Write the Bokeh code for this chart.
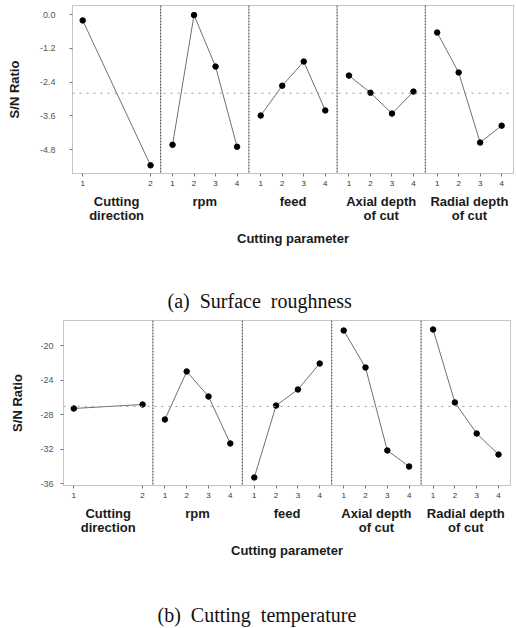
import numpy as np
from bokeh.plotting import figure
from bokeh.layouts import column, row
from bokeh.models import (Span, Title, FixedTicker, NumeralTickFormatter, Range1d,
                          LinearAxis)
from bokeh.embed import file_html
from bokeh.resources import INLINE

# ---------------- data ----------------
factor_names = ["Cutting\ndirection", "rpm", "feed", "Axial depth\nof cut", "Radial depth\nof cut"]
factor_levels = [[1, 2], [1, 2, 3, 4], [1, 2, 3, 4], [1, 2, 3, 4], [1, 2, 3, 4]]

roughness_sn = [
    [-0.21, -5.36],
    [-4.63, -0.02, -1.85, -4.70],
    [-3.59, -2.53, -1.67, -3.41],
    [-2.17, -2.78, -3.52, -2.74],
    [-0.64, -2.06, -4.55, -3.95],
]
temperature_sn = [
    [-27.30, -26.84],
    [-28.58, -23.01, -25.91, -31.36],
    [-35.30, -26.96, -25.10, -22.09],
    [-18.26, -22.55, -32.17, -34.03],
    [-18.14, -26.60, -30.20, -32.64],
]
roughness_yticks = [0.0, -1.2, -2.4, -3.6, -4.8]
temperature_yticks = [-20, -24, -28, -32, -36]

x_title = "Cutting parameter"
y_title = "S/N Ratio"
captions = ["(a)\u00a0\u00a0Surface\u00a0\u00a0roughness", "(b)\u00a0\u00a0Cutting\u00a0\u00a0temperature"]

SANS = "Liberation Sans"
SERIF = "Liberation Serif"
INK = "#1a1a1a"


def level_pos(k, lev, nlev):
    a, b = (0.85, 2.15) if nlev == 2 else (0.45, nlev + 0.55)
    return k + (lev - a) / (b - a)


def make_chart(values, yticks, yrange, fmt, caption, left, right, top, bottom, height,
               cap_offset, ylab_standoff, ytick_standoff, gap):
    p = figure(width=516, height=height, x_range=Range1d(0, 5), y_range=Range1d(*yrange),
               output_backend="svg", toolbar_location=None,
               min_border_left=left, min_border_right=right,
               min_border_top=top, min_border_bottom=bottom)
    p.xgrid.visible = False
    p.ygrid.visible = False
    p.outline_line_color = "#8a8a8a"
    p.outline_line_dash = "1 1"
    p.background_fill_color = "white"
    p.border_fill_color = "white"

    ticks, overrides = [], {}
    all_means = []
    for k, (levs, vals) in enumerate(zip(factor_levels, values)):
        xs = [level_pos(k, l, len(levs)) for l in levs]
        ticks += xs
        for x, l in zip(xs, levs):
            overrides[x] = str(l)
        p.line(xs, vals, line_color="#707070", line_width=1)
        p.scatter(xs, vals, size=5.5, color="black")
        all_means.append(np.mean(vals))
    grand = float(np.mean(all_means))
    p.add_layout(Span(location=grand, dimension="width", line_color="#9a9a9a",
                      line_dash="2 5", line_width=1))
    for k in range(1, 5):
        p.add_layout(Span(location=k, dimension="height", line_color="#3a3a3a",
                          line_dash="2 1", line_width=1))

    # level digits
    xa = p.xaxis[0]
    xa.ticker = FixedTicker(ticks=ticks, minor_ticks=[])
    xa.major_label_overrides = overrides
    xa.axis_line_color = None
    xa.major_tick_out = 3
    xa.major_tick_in = 0
    xa.major_tick_line_color = "#777777"
    xa.major_label_standoff = 4
    xa.major_label_text_font = SANS
    xa.major_label_text_font_size = "8px"
    xa.major_label_text_color = "#333333"

    # factor names + x title
    centers = [k + 0.5 for k in range(len(factor_names))]
    fa = LinearAxis(ticker=FixedTicker(ticks=centers, minor_ticks=[]),
                    major_label_overrides={c: n for c, n in zip(centers, factor_names)})
    fa.axis_line_color = None
    fa.major_tick_line_color = None
    fa.major_tick_out = 0
    fa.major_tick_in = 0
    fa.major_label_standoff = 5
    fa.major_label_text_font = SANS
    fa.major_label_text_font_size = "13px"
    fa.major_label_text_font_style = "bold"
    fa.major_label_text_line_height = 0.95
    fa.major_label_text_color = INK
    fa.axis_label = x_title
    fa.axis_label_text_font = SANS
    fa.axis_label_text_font_size = "13px"
    fa.axis_label_text_font_style = "bold"
    fa.axis_label_text_color = INK
    fa.axis_label_standoff = 5
    p.add_layout(fa, "below")

    spacer = Title(text=" ", text_font_size="1px", standoff=gap)
    p.add_layout(spacer, "below")
    cap = Title(text=caption, align="left", offset=cap_offset, vertical_align="top",
                text_font=SERIF, text_font_size="20px", text_font_style="normal",
                text_color="#111111", standoff=2)
    p.add_layout(cap, "below")

    ya = p.yaxis[0]
    ya.ticker = FixedTicker(ticks=yticks, minor_ticks=[])
    ya.formatter = NumeralTickFormatter(format=fmt)
    ya.axis_line_color = None
    ya.major_tick_out = 3
    ya.major_tick_in = 0
    ya.major_tick_line_color = "#777777"
    ya.major_label_standoff = ytick_standoff
    ya.major_label_text_font = SANS
    ya.major_label_text_font_size = "9px"
    ya.major_label_text_color = "#555555"
    ya.axis_label = y_title
    ya.axis_label_text_font = SANS
    ya.axis_label_text_font_size = "13px"
    ya.axis_label_text_font_style = "bold"
    ya.axis_label_text_color = INK
    ya.axis_label_standoff = ylab_standoff
    return p


p1 = make_chart(roughness_sn, roughness_yticks, (-5.65, 0.32), "0.0", captions[0],
                left=72, right=3, top=5, bottom=141, height=314,
                cap_offset=95, ylab_standoff=15, ytick_standoff=14, gap=37)
p2 = make_chart(temperature_sn, temperature_yticks, (-36.23, -17.1), "0", captions[1],
                left=63, right=6, top=6, bottom=143, height=314,
                cap_offset=94, ylab_standoff=12, ytick_standoff=7, gap=39)

layout = column(row(p1), row(p2), spacing=0)
open("out.html", "w").write(file_html(layout, INLINE))
